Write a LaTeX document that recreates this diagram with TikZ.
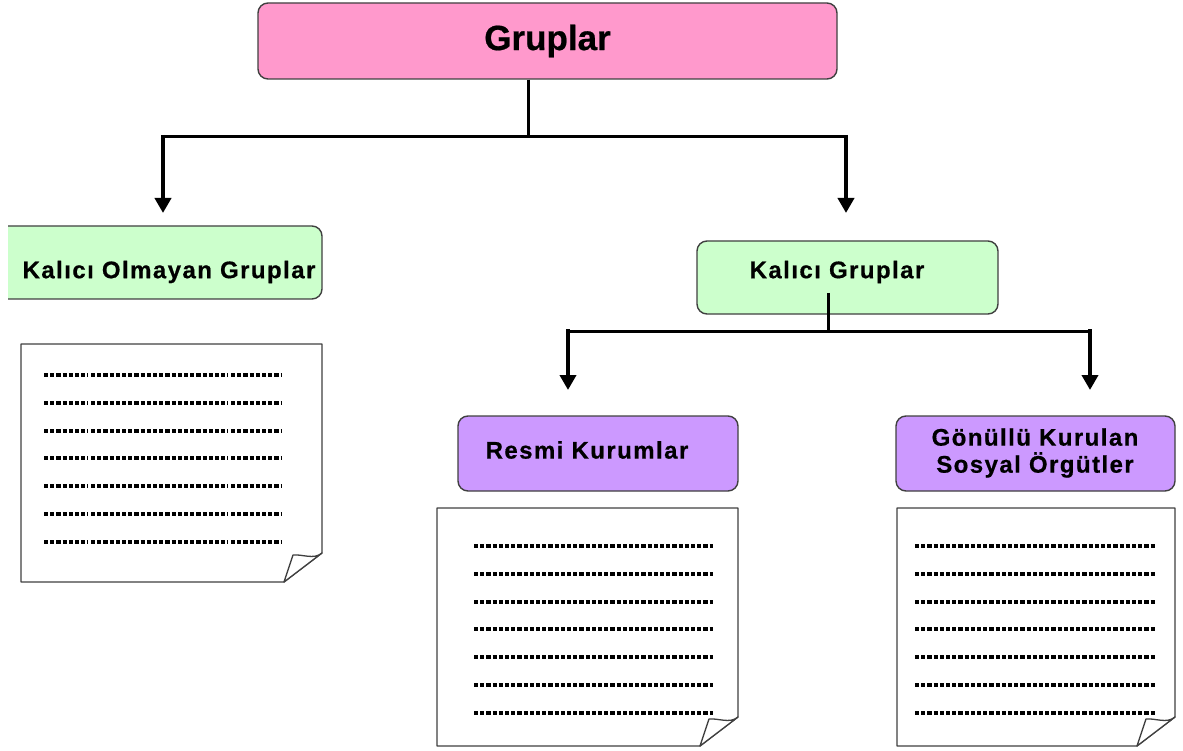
\documentclass[tikz,border=0pt]{standalone}
\usepackage{fontspec}
\setmainfont{Liberation Sans}
\newfontfamily\lblfont[LetterSpace=6,FakeBold=0.6]{Liberation Sans}
\newfontfamily\topfont[FakeBold=0.6]{Liberation Sans}
\usetikzlibrary{arrows.meta}
\definecolor{pinkbox}{HTML}{FF99CC}
\definecolor{greenbox}{HTML}{CCFFCC}
\definecolor{purplebox}{HTML}{CC99FF}
\definecolor{edgegray}{HTML}{404040}
\tikzset{
  box/.style={draw=edgegray, line width=1.4pt, rounded corners=10pt, inner sep=0pt},
  lbl/.style={inner sep=0pt, align=center, font=\lblfont\fontsize{24}{27}\selectfont\bfseries},
  conn/.style={line width=3pt, black},
  shaft/.style={line width=4.5pt, black, -{Triangle[length=15pt,width=16pt]}},
  dotline/.style={line width=3.8pt, dash pattern=on 4.2pt off 2pt},
  page/.style={draw=edgegray, line width=1.3pt, fill=white, line join=round},
}
\newcommand\docpage[4]{%
  \draw[page] (#1,#2) -- (#3,#2) -- (#3,#4-29) -- (#3-38,#4) -- (#1,#4) -- cycle;
  \draw[page] (#3,#4-29) .. controls (#3-8,#4-22) and (#3-20,#4-28) .. (#3-29,#4-27) -- (#3-38,#4) -- cycle;
}
\begin{document}
\begin{tikzpicture}[x=1pt,y=-1pt]
\useasboundingbox (0,0) rectangle (1183,751);

% top box
\node[box, fill=pinkbox, minimum width=579pt, minimum height=76pt,
      font=\topfont\fontsize{35}{40}\selectfont\bfseries] (g) at (547.5,41) {Gruplar};

% left box (cut on the left)
\begin{scope}
  \clip (8,0) rectangle (1183,751);
  \node[box, fill=greenbox, minimum width=334pt, minimum height=73pt] (kog) at (155,262.5) {};
\end{scope}
\node[lbl] (kogt) at (169,272) {Kalıcı Olmayan Gruplar};

% right box
\node[box, fill=greenbox, minimum width=301pt, minimum height=73pt] (kg) at (847.5,277.5) {};
\node[lbl] (kgt) at (837,272) {Kalıcı Gruplar};

% bottom boxes
\node[box, fill=purplebox, minimum width=280pt, minimum height=75pt] (rk) at (598,453.5) {};
\node[lbl] (rkt) at (587,450) {Resmi Kurumlar};
\node[box, fill=purplebox, minimum width=279pt, minimum height=75pt] (go) at (1035.5,453.5) {};
\node[lbl] (got) at (1035,453) {Gönüllü Kurulan\\Sosyal Örgütler};

% connectors level 1
\coordinate (j1) at (528,137);
\coordinate (c1) at (163,135);
\coordinate (c2) at (846,135);
\coordinate (a1) at (163,213);
\coordinate (a2) at (846,213);
\draw[conn] (g.south -| j1) -- (j1);
\draw[conn] (c1 |- j1) -- (c2 |- j1);
\draw[shaft] (c1) -- (a1);
\draw[shaft] (c2) -- (a2);

% connectors level 2
\coordinate (j2) at (828,331);
\coordinate (s2) at (828,293);
\coordinate (c3) at (568,329);
\coordinate (c4) at (1090,329);
\coordinate (a3) at (568,390);
\coordinate (a4) at (1090,390);
\draw[conn] (s2) -- (j2);
\draw[conn] (c3 |- j2) -- (c4 |- j2);
\draw[shaft] (c3) -- (a3);
\draw[shaft] (c4) -- (a4);

% documents
\docpage{21}{344}{322}{582}
\docpage{437}{508}{738}{746}
\docpage{897}{508}{1175}{746}

\foreach \y in {375,403,431,458,486,514,542} {
  \draw[dotline] (44,\y) -- (88,\y);
  \draw[dotline] (91,\y) -- (228,\y);
  \draw[dotline] (231,\y) -- (281,\y);
}
\foreach \y in {546,574,602,629,657,685,713} {
  \draw[dotline] (474,\y) -- (713,\y);
  \draw[dotline] (915,\y) -- (1155,\y);
}
\end{tikzpicture}
\end{document}
